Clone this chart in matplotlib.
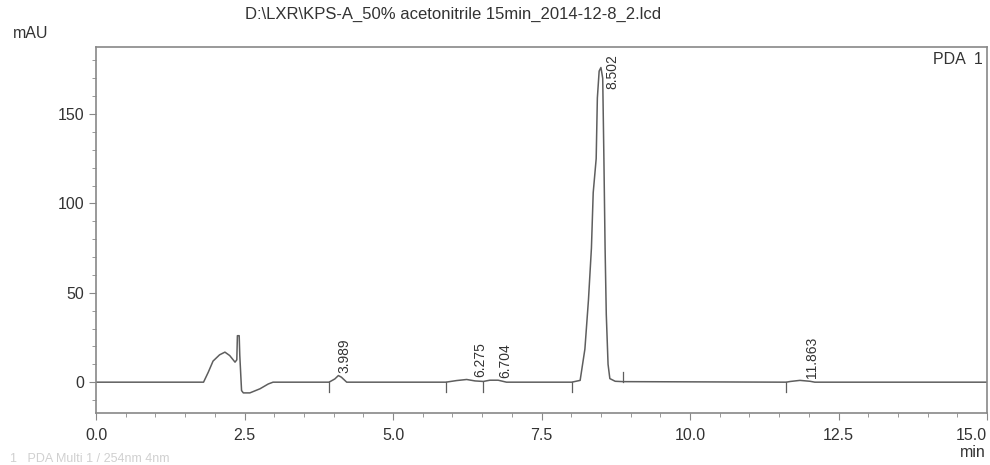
# Shimadzu PDA chromatogram, KPS-A 50% acetonitrile

import matplotlib
matplotlib.use('Agg')
import matplotlib.pyplot as plt
from matplotlib.ticker import MultipleLocator

plt.rcParams['font.family'] = ['Liberation Sans', 'DejaVu Sans']

title = r'D:\LXR\KPS-A_50% acetonitrile 15min_2014-12-8_2.lcd'

# trace (min, mAU)
time_min = [0.0, 0.9, 1.81, 1.89, 1.97, 2.08, 2.17, 2.25, 2.34, 2.37, 2.38, 2.41, 2.42,
            2.45, 2.48, 2.59, 2.76, 2.90, 2.98, 3.15, 3.92, 3.95, 4.02, 4.08, 4.13, 4.22,
            5.89, 6.07, 6.24, 6.38, 6.52, 6.63, 6.77, 6.91, 8.01, 8.15, 8.23, 8.29, 8.34,
            8.37, 8.42, 8.44, 8.47, 8.50, 8.53, 8.55, 8.57, 8.59, 8.62, 8.65, 8.74, 8.87,
            11.62, 11.69, 11.85, 12.02, 12.10, 15.0]
mau = [0.0, 0.0, 0.0, 5.6, 11.8, 15.3, 16.8, 14.9, 11.2, 12.5, 26.0, 26.0, 15.0,
       -4.7, -6.0, -6.0, -3.7, -1.0, 0.0, 0.0, 0.0, 0.5, 1.8, 3.7, 2.8, 0.0,
       0.0, 0.9, 1.5, 0.7, 0.4, 1.1, 1.1, 0.0, 0.0, 1.0, 18.5, 46.0, 75.0,
       106.0, 125.0, 159.0, 174.0, 176.0, 170.0, 125.0, 75.0, 38.0, 10.0, 2.0, 0.5, 0.3,
       0.0, 0.4, 1.0, 0.5, 0.0, 0.0]

# peak labels
peak_rt = [3.989, 6.275, 6.704, 8.502, 11.863]
peak_label = ['3.989', '6.275', '6.704', '8.502', '11.863']
peak_height = [3.7, 1.5, 1.1, 176.0, 1.0]

# integration marks (min, direction)
mark_t = [3.92, 5.89, 6.52, 8.01, 8.87, 11.62]
mark_dir = [-1, -1, -1, -1, 1, -1]

x_ticks = [0.0, 2.5, 5.0, 7.5, 10.0, 12.5, 15.0]
x_labels = ['0.0', '2.5', '5.0', '7.5', '10.0', '12.5', '15.0']

fig = plt.figure(figsize=(9.9, 4.65), dpi=100)
ax = fig.add_axes([0.097, 0.112, 0.900, 0.787])

line_col = '#5e5e5e'
ax.plot(time_min, mau, color=line_col, lw=1.1)

for t, d in zip(mark_t, mark_dir):
    ax.plot([t, t], [0, d * 5.5], color=line_col, lw=0.9)

for rt, lab, h in zip(peak_rt, peak_label, peak_height):
    y = min(h + 1.5, 164)
    ax.text(rt + 0.19, y, lab, rotation=90, ha='center', va='bottom',
            fontsize=10, color='#333333')

ax.set_xlim(0, 15)
ax.set_ylim(-17.2, 187.5)
ax.set_xticks(x_ticks, x_labels)
ax.get_xticklabels()[-1].set_horizontalalignment('right')
ax.xaxis.set_minor_locator(MultipleLocator(0.5))
ax.yaxis.set_major_locator(MultipleLocator(50))
ax.yaxis.set_minor_locator(MultipleLocator(10))

for s in ax.spines.values():
    s.set_color('#888888')
    s.set_linewidth(1.2)
ax.tick_params(which='major', length=5, color='#888888', labelsize=11.5,
               labelcolor='#333333', direction='out')
ax.tick_params(which='minor', length=3, color='#888888', direction='out')
ax.tick_params(axis='x', pad=6)

fig.text(0.458, 0.97, title, ha='center', va='center', fontsize=12, color='#333333')
fig.text(0.031, 0.928, 'mAU', ha='center', va='center', fontsize=11.5, color='#333333')
fig.text(0.996, 0.027, 'min', ha='right', va='center', fontsize=11.5, color='#333333')
ax.text(0.995, 0.985, 'PDA  1', transform=ax.transAxes, ha='right', va='top',
        fontsize=11.5, color='#333333')
fig.text(0.01, 0.001, '1   PDA Multi 1 / 254nm 4nm', ha='left', va='bottom',
         fontsize=9, color='#d0d0d0')

fig.savefig('out.png', dpi=100)
